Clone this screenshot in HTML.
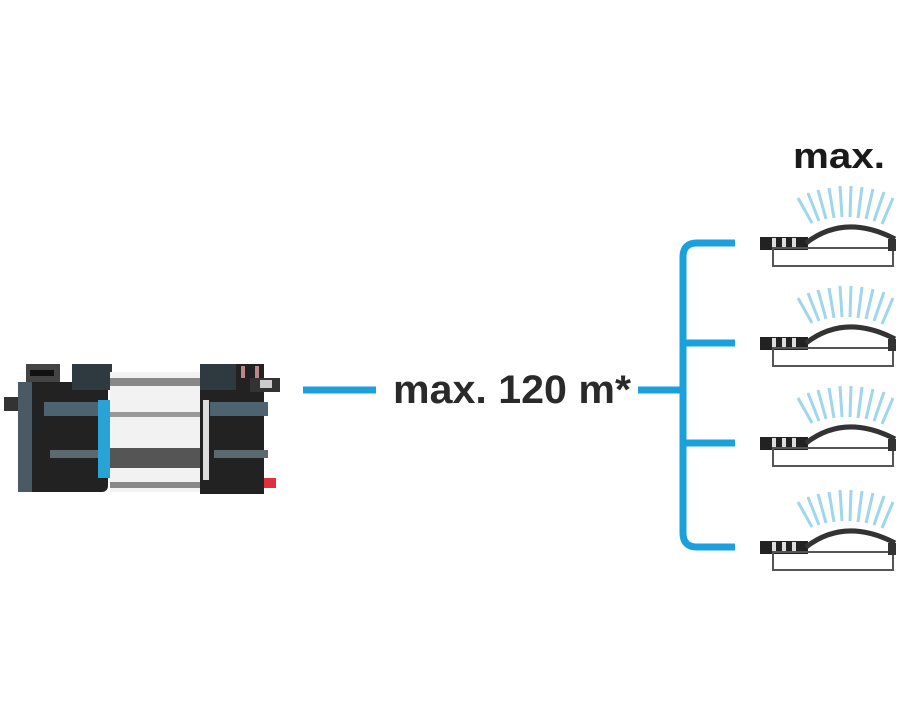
<!DOCTYPE html><html><head><style>body{margin:0;background:#fff}svg{display:block}</style></head><body>
<svg width="900" height="720" viewBox="0 0 900 720" xmlns="http://www.w3.org/2000/svg">
<rect width="900" height="720" fill="#fff"/>
<!-- pump -->
<g>
<rect x="4" y="397" width="20" height="14" fill="#333"/>
<rect x="26" y="364" width="34" height="20" fill="#444"/>
<rect x="30" y="370" width="24" height="6" fill="#111"/>
<rect x="18" y="382" width="90" height="110" rx="6" fill="#222"/>
<rect x="18" y="382" width="14" height="110" fill="#4a5a64"/>
<rect x="72" y="364" width="40" height="26" fill="#2f3a40"/>
<rect x="44" y="402" width="64" height="14" fill="#4d6470"/>
<rect x="50" y="450" width="60" height="8" fill="#5c6a70"/>
<rect x="98" y="400" width="12" height="78" fill="#27a3d6"/>
<rect x="110" y="372" width="90" height="120" fill="#f2f2f2"/>
<rect x="110" y="378" width="90" height="8" fill="#888"/>
<rect x="110" y="412" width="90" height="5" fill="#999"/>
<rect x="110" y="448" width="90" height="20" fill="#555"/>
<rect x="110" y="482" width="90" height="6" fill="#888"/>
<rect x="200" y="364" width="64" height="130" fill="#222"/>
<rect x="200" y="364" width="36" height="26" fill="#2f3a40"/>
<rect x="210" y="402" width="58" height="14" fill="#4d6470"/>
<rect x="214" y="450" width="54" height="8" fill="#5c6a70"/>
<rect x="203" y="400" width="6" height="80" fill="#ddd"/>
<rect x="250" y="378" width="30" height="14" fill="#333"/>
<rect x="260" y="380" width="12" height="8" fill="#ccc"/>
<rect x="241" y="366" width="4" height="12" fill="#b88"/>
<rect x="255" y="366" width="4" height="12" fill="#b88"/>
<rect x="264" y="478" width="12" height="10" fill="#e03040"/>
</g>
<!-- lines -->
<g stroke="#1aa0dd" stroke-width="7" fill="none" stroke-linecap="butt">
<line x1="303" y1="390" x2="376" y2="390"/>
<line x1="638" y1="390" x2="683" y2="390"/>
<path d="M735 243 H697 Q683 243 683 257 V533 Q683 547 697 547 H735"/>
<line x1="683" y1="343" x2="735" y2="343"/>
<line x1="683" y1="443" x2="735" y2="443"/>
</g>
<text x="393" y="403" font-family="Liberation Sans, sans-serif" font-weight="bold" font-size="40" fill="#2a2a2a" textLength="238" lengthAdjust="spacingAndGlyphs">max. 120 m*</text>
<text x="793" y="168" font-family="Liberation Sans, sans-serif" font-weight="bold" font-size="36" fill="#1a1a1a" textLength="92" lengthAdjust="spacingAndGlyphs">max.</text>
<defs>
<g id="sp">
<g stroke="#9fd6ec" stroke-width="3">
<line x1="812" y1="-20" x2="798" y2="-45"/>
<line x1="819" y1="-22" x2="808" y2="-50"/>
<line x1="826" y1="-24" x2="818" y2="-53"/>
<line x1="834" y1="-25" x2="829" y2="-55"/>
<line x1="842" y1="-26" x2="840" y2="-57"/>
<line x1="850" y1="-26" x2="851" y2="-57"/>
<line x1="858" y1="-25" x2="862" y2="-56"/>
<line x1="866" y1="-24" x2="873" y2="-54"/>
<line x1="874" y1="-22" x2="884" y2="-51"/>
<line x1="882" y1="-19" x2="893" y2="-45"/>
</g>
<rect x="760" y="-6" width="48" height="13" fill="#222"/>
<rect x="772" y="-5" width="4" height="11" fill="#ddd"/>
<rect x="782" y="-5" width="4" height="11" fill="#ddd"/>
<rect x="792" y="-5" width="4" height="11" fill="#ddd"/>
<path d="M806 0 Q845 -30 895 -4" stroke="#333" stroke-width="5" fill="none"/>
<rect x="773" y="5" width="120" height="18" fill="none" stroke="#555" stroke-width="2"/>
<rect x="888" y="-4" width="8" height="12" fill="#333"/>
</g>
</defs>
<use href="#sp" transform="translate(0,243)"/>
<use href="#sp" transform="translate(0,343)"/>
<use href="#sp" transform="translate(0,443)"/>
<use href="#sp" transform="translate(0,547)"/>
</svg>
</body></html>
